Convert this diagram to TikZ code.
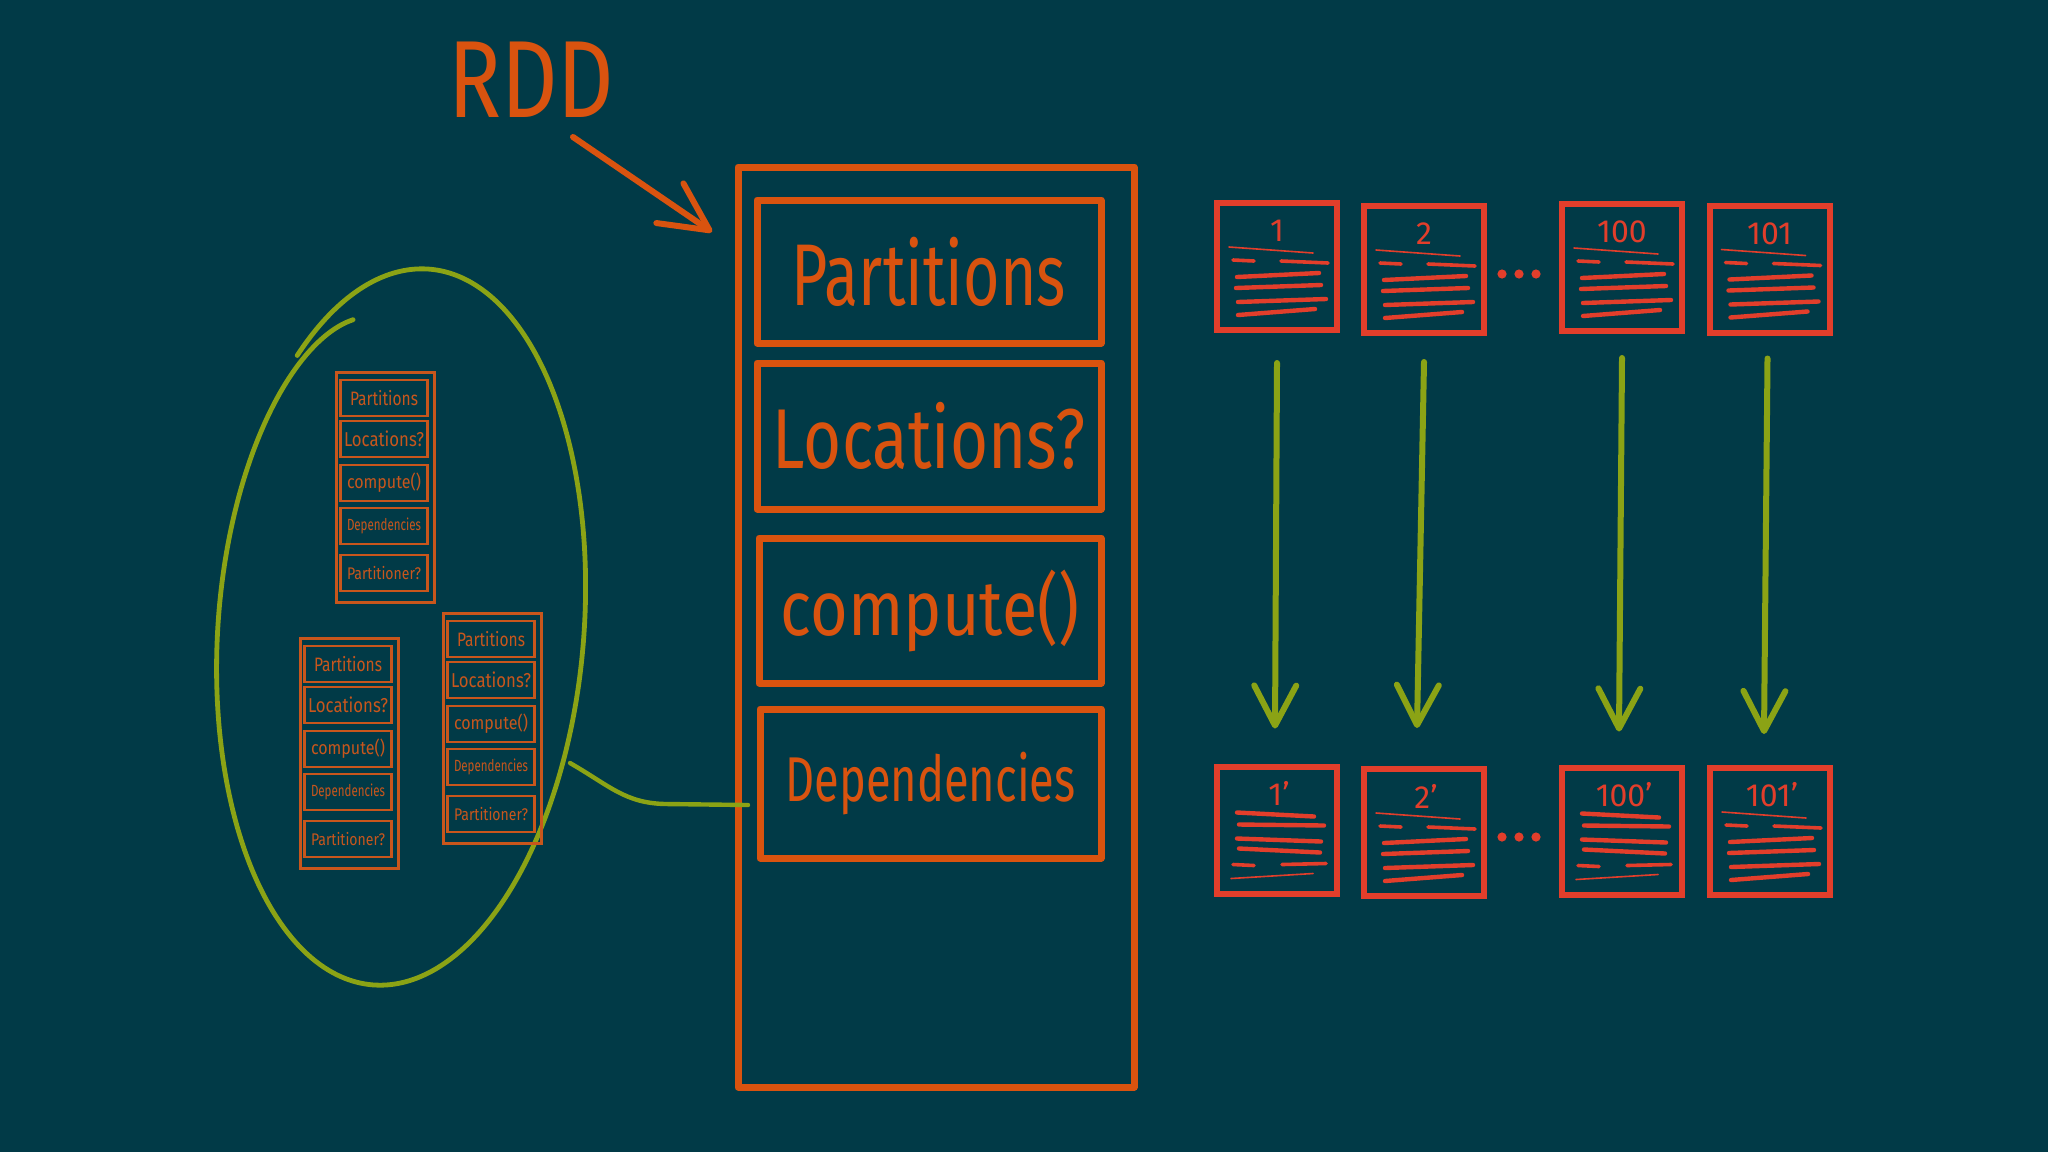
\documentclass[tikz,border=0pt]{standalone}
\usepackage{fontspec}
\setmainfont{Fira Sans}
\usepackage{graphicx}
\usetikzlibrary{arrows.meta,calc}
\definecolor{bgc}{HTML}{013A47}
\definecolor{rddor}{HTML}{D9530F}
\definecolor{smor}{HTML}{C8561C}
\definecolor{blkred}{HTML}{E23E2B}
\definecolor{grn}{HTML}{8BA315}
\newcommand\fitw[3]{\resizebox{#1}{!}{\scalebox{1}[#2]{#3}}}
\newcommand\rddstack[3]{%
  \node[stackbox] (#1) at ({#2+49},{#3+115}) {};
  \node[smallbox] (#1p) at ({#2+48},{#3+26})  {\fitw{34pt}{1.25}{Partitions}};
  \node[smallbox] (#1l) at ({#2+48},{#3+67})  {\fitw{40pt}{1.2}{Locations?}};
  \node[smallbox] (#1c) at ({#2+48},{#3+111}) {\fitw{37pt}{1.15}{compute()}};
  \node[smallbox] (#1d) at ({#2+48},{#3+154}) {\fitw{37pt}{1.4}{Dependencies}};
  \node[smallbox] (#1r) at ({#2+48},{#3+201}) {\fitw{37pt}{1.2}{Partitioner?}};
}
\newcommand\scribA[1]{%
  \begin{scope}[shift={(#1.north west)}]
    \draw[scribble, line width=0.8pt] (12,44) -- (96,50);
    \draw[scribble, line width=1.8pt] (16,57) -- (37,58) (64,58) -- (111,60);
    \draw[scribble, line width=2.2pt] (20,74) -- (102,70) (19,85) -- (104,82)
      (21,99) -- (109,96) (21,112) -- (98,106);
  \end{scope}}
\newcommand\scribB[1]{%
  \begin{scope}[shift={(#1.north west)}]
    \draw[scribble, line width=2.2pt] (20,46) -- (97,50) (22,58) -- (107,59)
      (20,72) -- (104,75) (22,82) -- (103,86);
    \draw[scribble, line width=1.8pt] (16,98) -- (37,99) (65,98) -- (109,97);
    \draw[scribble, line width=0.8pt] (14,112) -- (96,107);
  \end{scope}}
\begin{document}
\begin{tikzpicture}[x=0.5pt,y=-0.5pt,
  rddbox/.style={draw=rddor, line width=3.5pt, inner sep=0pt, outer sep=0pt, text=rddor, line join=round},
  stackbox/.style={draw=smor, line width=1.5pt, minimum width=49pt, minimum height=115pt, inner sep=0pt, outer sep=0pt},
  smallbox/.style={draw=smor, line width=1.4pt, inner sep=0pt, outer sep=0pt, text=smor, minimum width=43.5pt, minimum height=18pt},
  blk/.style={draw=blkred, line width=3pt, minimum width=60pt, minimum height=63.5pt, inner sep=0pt, outer sep=0pt},
  blklbl/.style={text=blkred, font=\fontsize{16}{16}\selectfont, inner sep=0pt},
  scribble/.style={draw=blkred, line cap=round},
  garrow/.style={draw=grn, line width=3pt, line cap=round, -{Straight Barb[length=20pt,width=21pt,round]}}]

\path[use as bounding box, fill=bgc] (0,0) rectangle (2048,1152);

% RDD label and arrow
\node[text=rddor, inner sep=0pt] (rddlbl) at (531,80) {\fitw{83pt}{1.25}{RDD}};
\coordinate (rddfrom) at (573,137);
\coordinate (rddtip) at (712,232);
\draw[rddor, line width=3pt, line cap=round, -{Straight Barb[length=24pt,width=24pt,round]}] (rddfrom) -- (rddtip);

% main RDD box
\node[rddbox, minimum width=198pt, minimum height=460pt] (rdd) at (936,627) {};
\node[rddbox, minimum width=172pt, minimum height=71.5pt] (part) at (929,271.5) {\fitw{137pt}{1.4}{Partitions}};
\node[rddbox, minimum width=172pt, minimum height=73pt] (loc) at (929,436) {\fitw{156pt}{1.3}{Locations?}};
\node[rddbox, minimum width=171pt, minimum height=72.5pt] (comp) at (930,610.5) {\fitw{149pt}{1.2}{compute()}};
\node[rddbox, minimum width=170.5pt, minimum height=74.5pt] (dep) at (930.5,783.5) {\fitw{145pt}{1.4}{Dependencies}};

% ellipse of many RDDs
\draw[grn, line width=2.4pt, line cap=round]
  plot[domain=133:-245, samples=240, smooth, variable=\t]
  ({401 + (1-0.07*((133-\t)/378)^20)*(183*cos(\t)*0.9969 + 359*sin(\t)*0.0785)},
   {627 + (1-0.07*((133-\t)/378)^20)*(183*cos(\t)*0.0785 - 359*sin(\t)*0.9969)});

\rddstack{sa}{336}{372}
\rddstack{sb}{300}{638}
\rddstack{sc}{443}{613}

% connector ellipse -> main box
\coordinate (ellR) at (570,763);
\coordinate (depIn) at (748,805);
\draw[grn, line width=2.2pt, line cap=round] (ellR) .. controls (610,786) and (625,803) .. (665,804) -- (depIn);

% partition blocks
\node[blk] (t1) at (1277,266.5) {};
\node[blk] (t2) at (1424,269.5) {};
\node[blk] (t3) at (1622,267.5) {};
\node[blk] (t4) at (1769.5,269) {};
\node[blk] (b1) at (1277,830) {};
\node[blk] (b2) at (1424,832.5) {};
\node[blk] (b3) at (1622,831) {};
\node[blk] (b4) at (1770,831.5) {};

\node[blklbl] (lt1) at ([yshift=-14pt]t1.north) {1};
\node[blklbl] (lt2) at ([yshift=-14pt]t2.north) {2};
\node[blklbl] (lt3) at ([yshift=-14pt]t3.north) {100};
\node[blklbl] (lt4) at ([yshift=-14pt]t4.north) {101};
\node[blklbl] (lb1) at ([xshift=1pt,yshift=-13.5pt]b1.north) {1'};
\node[blklbl] (lb2) at ([xshift=1pt,yshift=-13.5pt]b2.north) {2'};
\node[blklbl] (lb3) at ([xshift=1pt,yshift=-13.5pt]b3.north) {100'};
\node[blklbl] (lb4) at ([xshift=1pt,yshift=-13.5pt]b4.north) {101'};

\scribA{t1}\scribA{t2}\scribA{t3}\scribA{t4}
\scribB{b1}\scribA{b2}\scribB{b3}\scribA{b4}

\foreach \dx in {0,17,34} {
  \fill[blkred] (1502+\dx,274) circle (2.3pt);
  \fill[blkred] (1502+\dx,837) circle (2.3pt);
}

% transformation arrows
\draw[garrow] ([yshift=-16.5pt]t1.south) -- ([xshift=-1pt,yshift=19pt]b1.north);
\draw[garrow] ([yshift=-14.5pt]t2.south) -- ([xshift=-3.5pt,yshift=20.5pt]b2.north);
\draw[garrow] ([yshift=-13.5pt]t3.south) -- ([xshift=-1.5pt,yshift=18pt]b3.north);
\draw[garrow] ([xshift=-1pt,yshift=-13pt]t4.south) -- ([xshift=-3pt,yshift=17pt]b4.north);
\end{tikzpicture}
\end{document}
